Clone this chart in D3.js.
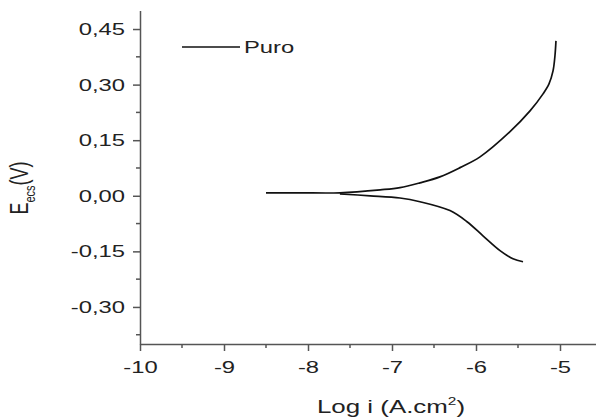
<!DOCTYPE html>
<html>
<head>
<meta charset="utf-8">
<script src="https://cdn.jsdelivr.net/npm/d3@7"></script>
<style>
  body { margin: 0; background: #fff; }
  svg { display: block; font-family: "Liberation Sans", Arial, sans-serif; }
  .axis text { font-size: 17px; fill: #222; }
</style>
</head>
<body>
<svg id="chart" width="596" height="418"></svg>
<script>
// anodic branch (Log i, E)
var upperLog = [-8.50, -8.10, -7.62, -7.14, -6.905, -6.667, -6.43, -6.19, -5.952, -5.595, -5.357, -5.202, -5.131, -5.083, -5.06, -5.048];
var upperE   = [0.008, 0.008, 0.008, 0.016, 0.022, 0.035, 0.051, 0.076, 0.105, 0.173, 0.229, 0.275, 0.302, 0.337, 0.378, 0.418];
// cathodic branch
var lowerLog = [-7.62, -7.26, -6.905, -6.667, -6.31, -6.107, -5.917, -5.714, -5.56, -5.44];
var lowerE   = [0.005, 0.0, -0.006, -0.016, -0.040, -0.070, -0.108, -0.148, -0.170, -0.178];

var xTicks = [-10, -9, -8, -7, -6, -5];
var yTicks = [-0.30, -0.15, 0.00, 0.15, 0.30, 0.45];
var seriesName = 'Puro';

var SX = 1.4; // the picture is stretched sideways
var axisColor = '#555';

var svg = d3.select('#chart');
var xScale = d3.scaleLinear().domain([-10, -4.5]).range([140, 602]);
var yScale = d3.scaleLinear().domain([-0.4, 0.5]).range([344, 10.5]);
var fmtY = function(d){ return d3.format('.2f')(d).replace('.', ',').replace('−', '-'); };

var xMinor = d3.range(-9.5, -4.5, 1);
var yMinor = d3.range(-0.375, 0.5, 0.15);

var xAxis = svg.append('g').attr('class', 'axis').attr('transform', 'translate(0,344)')
    .call(d3.axisBottom(xScale).tickValues(xTicks).tickSize(7).tickSizeOuter(0).tickPadding(10)
      .tickFormat(function(d){ return String(d); }));
xAxis.selectAll('.tick text').attr('transform', 'scale(' + SX + ',1)');
xAxis.selectAll('.minor').data(xMinor).enter().append('line')
    .attr('x1', function(d){ return xScale(d); }).attr('x2', function(d){ return xScale(d); })
    .attr('y1', 0).attr('y2', 4);

var yAxis = svg.append('g').attr('class', 'axis').attr('transform', 'translate(140,0)')
    .call(d3.axisLeft(yScale).tickValues(yTicks).tickSize(7).tickSizeOuter(0).tickPadding(6).tickFormat(fmtY));
yAxis.selectAll('.tick text').attr('x', 0).attr('transform', 'translate(-15,0) scale(' + SX + ',1)');
yAxis.selectAll('.minor').data(yMinor).enter().append('line')
    .attr('y1', function(d){ return yScale(d); }).attr('y2', function(d){ return yScale(d); })
    .attr('x1', 0).attr('x2', -4);

svg.selectAll('.axis path, .axis line').attr('stroke', axisColor).attr('stroke-width', 1.5);

var lineGen = d3.line().curve(d3.curveCatmullRom)
    .x(function(d){ return xScale(d[0]); }).y(function(d){ return yScale(d[1]); });

var upper = upperLog.map(function(d, i){ return [d, upperE[i]]; });
var lower = lowerLog.map(function(d, i){ return [d, lowerE[i]]; });
[upper, lower].forEach(function(pts){
  svg.append('path').attr('d', lineGen(pts))
     .attr('fill', 'none').attr('stroke', '#111').attr('stroke-width', 1.7);
});

// legend
svg.append('line').attr('x1', 182).attr('x2', 240).attr('y1', 47).attr('y2', 47)
   .attr('stroke', '#111').attr('stroke-width', 1.7);
svg.append('text').attr('transform', 'translate(244,53) scale(' + SX + ',1)')
   .attr('font-size', 17).attr('fill', '#222').text(seriesName);

// axis titles
var xt = svg.append('text').attr('transform', 'translate(391,413) scale(' + SX + ',1)')
   .attr('text-anchor', 'middle').attr('font-size', 18.5).attr('fill', '#222');
xt.append('tspan').text('Log i (A.cm');
xt.append('tspan').attr('dy', -8).attr('font-size', 11).text('2');
xt.append('tspan').attr('dy', 8).text(')');

var yt = svg.append('text').attr('transform', 'translate(28,188) scale(' + SX + ',1) rotate(-90)')
   .attr('text-anchor', 'middle').attr('font-size', 18).attr('fill', '#222');
yt.append('tspan').text('E');
yt.append('tspan').attr('dy', 5).attr('font-size', 11).text('ecs');
yt.append('tspan').attr('dy', -5).text('(V)');
</script>
</body>
</html>
